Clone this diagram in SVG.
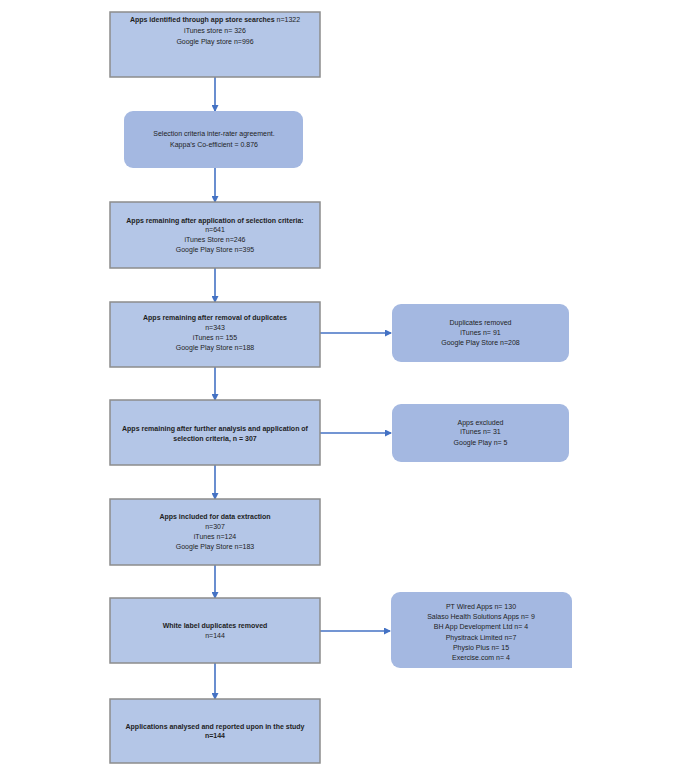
<svg xmlns="http://www.w3.org/2000/svg" width="680" height="766" viewBox="0 0 680 766">
<defs>
<marker id="ah" markerWidth="8" markerHeight="7" refX="6" refY="3.5" orient="auto" markerUnits="userSpaceOnUse">
<path d="M0,0 L7,3.5 L0,7 Z" fill="#4472c4"/>
</marker>
<style>
.box{fill:#b4c6e7;stroke:#8c8c8c;stroke-width:1.5}
.rbox{fill:#a4b8e1;stroke:none}
text{font-family:"Liberation Sans",Arial,sans-serif;font-size:7px;fill:#1e1e1e;text-anchor:middle}
.b{font-weight:bold}
.c line{stroke:#4472c4;stroke-width:1.6;marker-end:url(#ah)}
</style>
</defs>
<rect width="680" height="766" fill="#ffffff"/>
<g class="c" id="connectors">
<line x1="215" y1="77" x2="215" y2="111"/>
<line x1="215" y1="168" x2="215" y2="202"/>
<line x1="215" y1="268" x2="215" y2="302"/>
<line x1="215" y1="367" x2="215" y2="400"/>
<line x1="215" y1="465" x2="215" y2="499"/>
<line x1="215" y1="565" x2="215" y2="598"/>
<line x1="215" y1="663" x2="215" y2="699"/>
<line x1="320" y1="333" x2="391" y2="333"/>
<line x1="320" y1="433" x2="391" y2="433"/>
<line x1="320" y1="631" x2="390" y2="631"/>
</g>
<g id="n1">
<rect class="box" x="110" y="12" width="210" height="65"/>
<text x="215" y="21.8"><tspan class="b">Apps identified through app store searches</tspan> n=1322</text>
<text x="215" y="33">iTunes store n= 326</text>
<text x="215" y="44">Google Play store n=996</text>
</g>
<g id="n2">
<rect class="rbox" x="124" y="111" width="179" height="57" rx="9"/>
<text x="214" y="135.5">Selection criteria inter-rater agreement.</text>
<text x="214" y="146.5">Kappa’s Co-efficient = 0.876</text>
</g>
<g id="n3">
<rect class="box" x="110" y="202" width="210" height="66"/>
<text class="b" x="215" y="222.5">Apps remaining after application of selection criteria:</text>
<text x="215" y="232">n=641</text>
<text x="215" y="242">iTunes Store n=246</text>
<text x="215" y="252">Google Play Store n=395</text>
</g>
<g id="n4">
<rect class="box" x="110" y="302" width="210" height="65"/>
<text class="b" x="215" y="319.5">Apps remaining after removal of duplicates</text>
<text x="215" y="329.5">n=343</text>
<text x="215" y="340">iTunes n= 155</text>
<text x="215" y="350">Google Play Store n=188</text>
</g>
<g id="n5">
<rect class="rbox" x="392" y="304" width="177" height="58" rx="9"/>
<text x="480.5" y="324.5">Duplicates removed</text>
<text x="480.5" y="334.5">iTunes n= 91</text>
<text x="480.5" y="345">Google Play Store n=208</text>
</g>
<g id="n6">
<rect class="box" x="110" y="400" width="210" height="65"/>
<text class="b" x="215" y="430.5">Apps remaining after further analysis and application of</text>
<text class="b" x="215" y="440.5">selection criteria, n = 307</text>
</g>
<g id="n7">
<rect class="rbox" x="392" y="404" width="177" height="58" rx="9"/>
<text x="480.5" y="424.5">Apps excluded</text>
<text x="480.5" y="434">iTunes n= 31</text>
<text x="480.5" y="444.5">Google Play n= 5</text>
</g>
<g id="n8">
<rect class="box" x="110" y="499" width="210" height="66"/>
<text class="b" x="215" y="518.5">Apps included for data extraction</text>
<text x="215" y="528.5">n=307</text>
<text x="215" y="538.5">iTunes n=124</text>
<text x="215" y="549">Google Play Store n=183</text>
</g>
<g id="n9">
<rect class="box" x="110" y="598" width="210" height="65"/>
<text class="b" x="215" y="627.5">White label duplicates removed</text>
<text x="215" y="637.5">n=144</text>
</g>
<g id="n10">
<path class="rbox" d="M400,592 H563 A9,9 0 0 1 572,601 V668 H400 A9,9 0 0 1 391,659 V601 A9,9 0 0 1 400,592 Z"/>
<text x="481" y="608.5">PT Wired Apps n= 130</text>
<text x="481" y="618.5">Salaso Health Solutions Apps n= 9</text>
<text x="481" y="629">BH App Development Ltd n= 4</text>
<text x="481" y="639.5">Physitrack Limited n=7</text>
<text x="481" y="649.5">Physio Plus n= 15</text>
<text x="481" y="659.5">Exercise.com n= 4</text>
</g>
<g id="n11">
<rect class="box" x="110" y="699" width="210" height="64"/>
<text class="b" x="215" y="728.5">Applications analysed and reported upon in the study</text>
<text class="b" x="215" y="737.5">n=144</text>
</g>
</svg>
